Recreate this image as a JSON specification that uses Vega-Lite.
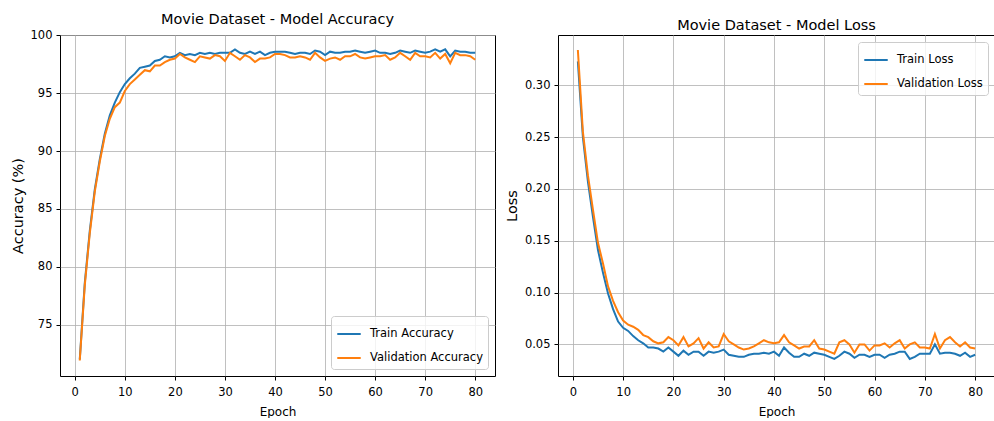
{
"$schema":"https://vega.github.io/schema/vega-lite/v6.json",
"background":"white",
"padding":{"left":9,"top":11,"right":0,"bottom":0},
"autosize":{"type":"pad"},
"bounds":"flush",
"spacing":63,
"datasets":{
"acc":[
{"epoch":1,"Train Accuracy":72.0,"Validation Accuracy":71.9},
{"epoch":2,"Train Accuracy":78.6,"Validation Accuracy":78.4},
{"epoch":3,"Train Accuracy":83.1,"Validation Accuracy":82.9},
{"epoch":4,"Train Accuracy":86.7,"Validation Accuracy":86.5},
{"epoch":5,"Train Accuracy":89.3,"Validation Accuracy":89.1},
{"epoch":6,"Train Accuracy":91.5,"Validation Accuracy":91.3},
{"epoch":7,"Train Accuracy":93.1,"Validation Accuracy":92.8},
{"epoch":8,"Train Accuracy":94.2,"Validation Accuracy":93.8},
{"epoch":9,"Train Accuracy":95.1,"Validation Accuracy":94.2},
{"epoch":10,"Train Accuracy":95.8,"Validation Accuracy":95.2},
{"epoch":11,"Train Accuracy":96.3,"Validation Accuracy":95.8},
{"epoch":12,"Train Accuracy":96.7,"Validation Accuracy":96.2},
{"epoch":13,"Train Accuracy":97.2,"Validation Accuracy":96.6},
{"epoch":14,"Train Accuracy":97.3,"Validation Accuracy":97.0},
{"epoch":15,"Train Accuracy":97.4,"Validation Accuracy":96.9},
{"epoch":16,"Train Accuracy":97.8,"Validation Accuracy":97.4},
{"epoch":17,"Train Accuracy":97.9,"Validation Accuracy":97.4},
{"epoch":18,"Train Accuracy":98.2,"Validation Accuracy":97.7},
{"epoch":19,"Train Accuracy":98.1,"Validation Accuracy":97.9},
{"epoch":20,"Train Accuracy":98.2,"Validation Accuracy":98.0},
{"epoch":21,"Train Accuracy":98.5,"Validation Accuracy":98.4},
{"epoch":22,"Train Accuracy":98.3,"Validation Accuracy":98.1},
{"epoch":23,"Train Accuracy":98.4,"Validation Accuracy":97.9},
{"epoch":24,"Train Accuracy":98.3,"Validation Accuracy":97.7},
{"epoch":25,"Train Accuracy":98.5,"Validation Accuracy":98.2},
{"epoch":26,"Train Accuracy":98.4,"Validation Accuracy":98.1},
{"epoch":27,"Train Accuracy":98.5,"Validation Accuracy":98.0},
{"epoch":28,"Train Accuracy":98.4,"Validation Accuracy":98.3},
{"epoch":29,"Train Accuracy":98.5,"Validation Accuracy":98.2},
{"epoch":30,"Train Accuracy":98.5,"Validation Accuracy":97.8},
{"epoch":31,"Train Accuracy":98.5,"Validation Accuracy":98.5},
{"epoch":32,"Train Accuracy":98.8,"Validation Accuracy":98.2},
{"epoch":33,"Train Accuracy":98.5,"Validation Accuracy":97.9},
{"epoch":34,"Train Accuracy":98.4,"Validation Accuracy":98.3},
{"epoch":35,"Train Accuracy":98.6,"Validation Accuracy":98.1},
{"epoch":36,"Train Accuracy":98.4,"Validation Accuracy":97.7},
{"epoch":37,"Train Accuracy":98.6,"Validation Accuracy":98.0},
{"epoch":38,"Train Accuracy":98.3,"Validation Accuracy":98.0},
{"epoch":39,"Train Accuracy":98.5,"Validation Accuracy":98.1},
{"epoch":40,"Train Accuracy":98.6,"Validation Accuracy":98.4},
{"epoch":41,"Train Accuracy":98.6,"Validation Accuracy":98.4},
{"epoch":42,"Train Accuracy":98.6,"Validation Accuracy":98.3},
{"epoch":43,"Train Accuracy":98.5,"Validation Accuracy":98.1},
{"epoch":44,"Train Accuracy":98.4,"Validation Accuracy":98.1},
{"epoch":45,"Train Accuracy":98.5,"Validation Accuracy":98.2},
{"epoch":46,"Train Accuracy":98.5,"Validation Accuracy":98.1},
{"epoch":47,"Train Accuracy":98.4,"Validation Accuracy":97.9},
{"epoch":48,"Train Accuracy":98.7,"Validation Accuracy":98.5},
{"epoch":49,"Train Accuracy":98.6,"Validation Accuracy":98.1},
{"epoch":50,"Train Accuracy":98.3,"Validation Accuracy":97.8},
{"epoch":51,"Train Accuracy":98.6,"Validation Accuracy":98.0},
{"epoch":52,"Train Accuracy":98.5,"Validation Accuracy":98.1},
{"epoch":53,"Train Accuracy":98.5,"Validation Accuracy":97.9},
{"epoch":54,"Train Accuracy":98.6,"Validation Accuracy":98.2},
{"epoch":55,"Train Accuracy":98.6,"Validation Accuracy":98.2},
{"epoch":56,"Train Accuracy":98.7,"Validation Accuracy":98.4},
{"epoch":57,"Train Accuracy":98.6,"Validation Accuracy":98.1},
{"epoch":58,"Train Accuracy":98.5,"Validation Accuracy":98.0},
{"epoch":59,"Train Accuracy":98.6,"Validation Accuracy":98.1},
{"epoch":60,"Train Accuracy":98.7,"Validation Accuracy":98.2},
{"epoch":61,"Train Accuracy":98.5,"Validation Accuracy":98.2},
{"epoch":62,"Train Accuracy":98.5,"Validation Accuracy":98.3},
{"epoch":63,"Train Accuracy":98.4,"Validation Accuracy":97.9},
{"epoch":64,"Train Accuracy":98.5,"Validation Accuracy":98.1},
{"epoch":65,"Train Accuracy":98.7,"Validation Accuracy":98.5},
{"epoch":66,"Train Accuracy":98.6,"Validation Accuracy":98.2},
{"epoch":67,"Train Accuracy":98.5,"Validation Accuracy":97.9},
{"epoch":68,"Train Accuracy":98.7,"Validation Accuracy":98.5},
{"epoch":69,"Train Accuracy":98.6,"Validation Accuracy":98.2},
{"epoch":70,"Train Accuracy":98.5,"Validation Accuracy":98.2},
{"epoch":71,"Train Accuracy":98.6,"Validation Accuracy":98.1},
{"epoch":72,"Train Accuracy":98.8,"Validation Accuracy":98.5},
{"epoch":73,"Train Accuracy":98.6,"Validation Accuracy":98.0},
{"epoch":74,"Train Accuracy":98.8,"Validation Accuracy":98.4},
{"epoch":75,"Train Accuracy":98.2,"Validation Accuracy":97.6},
{"epoch":76,"Train Accuracy":98.7,"Validation Accuracy":98.5},
{"epoch":77,"Train Accuracy":98.6,"Validation Accuracy":98.3},
{"epoch":78,"Train Accuracy":98.6,"Validation Accuracy":98.3},
{"epoch":79,"Train Accuracy":98.5,"Validation Accuracy":98.2},
{"epoch":80,"Train Accuracy":98.5,"Validation Accuracy":97.9}
],
"loss":[
{"epoch":1,"Train Loss":0.323,"Validation Loss":0.334},
{"epoch":2,"Train Loss":0.250,"Validation Loss":0.255},
{"epoch":3,"Train Loss":0.207,"Validation Loss":0.213},
{"epoch":4,"Train Loss":0.173,"Validation Loss":0.180},
{"epoch":5,"Train Loss":0.141,"Validation Loss":0.148},
{"epoch":6,"Train Loss":0.119,"Validation Loss":0.128},
{"epoch":7,"Train Loss":0.099,"Validation Loss":0.106},
{"epoch":8,"Train Loss":0.084,"Validation Loss":0.092},
{"epoch":9,"Train Loss":0.072,"Validation Loss":0.081},
{"epoch":10,"Train Loss":0.066,"Validation Loss":0.073},
{"epoch":11,"Train Loss":0.063,"Validation Loss":0.069},
{"epoch":12,"Train Loss":0.058,"Validation Loss":0.067},
{"epoch":13,"Train Loss":0.054,"Validation Loss":0.064},
{"epoch":14,"Train Loss":0.051,"Validation Loss":0.059},
{"epoch":15,"Train Loss":0.047,"Validation Loss":0.057},
{"epoch":16,"Train Loss":0.047,"Validation Loss":0.053},
{"epoch":17,"Train Loss":0.046,"Validation Loss":0.051},
{"epoch":18,"Train Loss":0.043,"Validation Loss":0.052},
{"epoch":19,"Train Loss":0.047,"Validation Loss":0.057},
{"epoch":20,"Train Loss":0.043,"Validation Loss":0.054},
{"epoch":21,"Train Loss":0.039,"Validation Loss":0.049},
{"epoch":22,"Train Loss":0.044,"Validation Loss":0.057},
{"epoch":23,"Train Loss":0.040,"Validation Loss":0.048},
{"epoch":24,"Train Loss":0.043,"Validation Loss":0.051},
{"epoch":25,"Train Loss":0.043,"Validation Loss":0.056},
{"epoch":26,"Train Loss":0.039,"Validation Loss":0.046},
{"epoch":27,"Train Loss":0.043,"Validation Loss":0.052},
{"epoch":28,"Train Loss":0.042,"Validation Loss":0.047},
{"epoch":29,"Train Loss":0.043,"Validation Loss":0.048},
{"epoch":30,"Train Loss":0.045,"Validation Loss":0.060},
{"epoch":31,"Train Loss":0.040,"Validation Loss":0.053},
{"epoch":32,"Train Loss":0.039,"Validation Loss":0.050},
{"epoch":33,"Train Loss":0.038,"Validation Loss":0.047},
{"epoch":34,"Train Loss":0.038,"Validation Loss":0.045},
{"epoch":35,"Train Loss":0.040,"Validation Loss":0.046},
{"epoch":36,"Train Loss":0.041,"Validation Loss":0.048},
{"epoch":37,"Train Loss":0.041,"Validation Loss":0.051},
{"epoch":38,"Train Loss":0.042,"Validation Loss":0.054},
{"epoch":39,"Train Loss":0.041,"Validation Loss":0.052},
{"epoch":40,"Train Loss":0.043,"Validation Loss":0.051},
{"epoch":41,"Train Loss":0.039,"Validation Loss":0.052},
{"epoch":42,"Train Loss":0.047,"Validation Loss":0.059},
{"epoch":43,"Train Loss":0.042,"Validation Loss":0.052},
{"epoch":44,"Train Loss":0.038,"Validation Loss":0.049},
{"epoch":45,"Train Loss":0.038,"Validation Loss":0.046},
{"epoch":46,"Train Loss":0.041,"Validation Loss":0.048},
{"epoch":47,"Train Loss":0.039,"Validation Loss":0.048},
{"epoch":48,"Train Loss":0.042,"Validation Loss":0.054},
{"epoch":49,"Train Loss":0.041,"Validation Loss":0.046},
{"epoch":50,"Train Loss":0.040,"Validation Loss":0.045},
{"epoch":51,"Train Loss":0.038,"Validation Loss":0.043},
{"epoch":52,"Train Loss":0.036,"Validation Loss":0.041},
{"epoch":53,"Train Loss":0.039,"Validation Loss":0.052},
{"epoch":54,"Train Loss":0.043,"Validation Loss":0.054},
{"epoch":55,"Train Loss":0.041,"Validation Loss":0.050},
{"epoch":56,"Train Loss":0.037,"Validation Loss":0.042},
{"epoch":57,"Train Loss":0.040,"Validation Loss":0.050},
{"epoch":58,"Train Loss":0.040,"Validation Loss":0.050},
{"epoch":59,"Train Loss":0.038,"Validation Loss":0.044},
{"epoch":60,"Train Loss":0.040,"Validation Loss":0.049},
{"epoch":61,"Train Loss":0.040,"Validation Loss":0.049},
{"epoch":62,"Train Loss":0.037,"Validation Loss":0.051},
{"epoch":63,"Train Loss":0.040,"Validation Loss":0.047},
{"epoch":64,"Train Loss":0.041,"Validation Loss":0.051},
{"epoch":65,"Train Loss":0.043,"Validation Loss":0.054},
{"epoch":66,"Train Loss":0.043,"Validation Loss":0.046},
{"epoch":67,"Train Loss":0.036,"Validation Loss":0.050},
{"epoch":68,"Train Loss":0.038,"Validation Loss":0.052},
{"epoch":69,"Train Loss":0.041,"Validation Loss":0.047},
{"epoch":70,"Train Loss":0.041,"Validation Loss":0.047},
{"epoch":71,"Train Loss":0.041,"Validation Loss":0.046},
{"epoch":72,"Train Loss":0.050,"Validation Loss":0.060},
{"epoch":73,"Train Loss":0.041,"Validation Loss":0.046},
{"epoch":74,"Train Loss":0.042,"Validation Loss":0.054},
{"epoch":75,"Train Loss":0.042,"Validation Loss":0.057},
{"epoch":76,"Train Loss":0.041,"Validation Loss":0.052},
{"epoch":77,"Train Loss":0.039,"Validation Loss":0.048},
{"epoch":78,"Train Loss":0.042,"Validation Loss":0.052},
{"epoch":79,"Train Loss":0.038,"Validation Loss":0.047},
{"epoch":80,"Train Loss":0.040,"Validation Loss":0.046}
]
},
"hconcat":[
{
"width":435,"height":341,
"title":{"text":"Movie Dataset - Model Accuracy"},
"data":{"name":"acc"},
"transform":[{"fold":["Train Accuracy","Validation Accuracy"],"as":["series","value"]}],
"mark":{"type":"line","strokeWidth":2},
"encoding":{
"x":{"field":"epoch","type":"quantitative","scale":{"domain":[-2.95,83.95],"nice":false,"zero":false},"axis":{"values":[0,10,20,30,40,50,60,70,80],"title":"Epoch","labelPadding":6,"titlePadding":9}},
"y":{"field":"value","type":"quantitative","scale":{"domain":[70.56,100.04],"nice":false,"zero":false},"axis":{"values":[75,80,85,90,95,100],"format":"d","title":"Accuracy (%)","titlePadding":5,"titleFontSize":14.5}},
"color":{"field":"series","type":"nominal","scale":{"domain":["Train Accuracy","Validation Accuracy"],"range":["#1f77b4","#ff7f0e"]},"legend":{"orient":"bottom-right","title":null}}
}
},
{
"width":437,"height":341,
"title":{"text":"Movie Dataset - Model Loss"},
"data":{"name":"loss"},
"transform":[{"fold":["Train Loss","Validation Loss"],"as":["series","value"]}],
"mark":{"type":"line","strokeWidth":2},
"encoding":{
"x":{"field":"epoch","type":"quantitative","scale":{"domain":[-2.95,83.95],"nice":false,"zero":false},"axis":{"values":[0,10,20,30,40,50,60,70,80],"title":"Epoch","labelPadding":6,"titlePadding":9}},
"y":{"field":"value","type":"quantitative","scale":{"domain":[0.0195,0.3485],"nice":false,"zero":false},"axis":{"values":[0.05,0.10,0.15,0.20,0.25,0.30],"format":".2f","title":"Loss","titlePadding":5,"titleFontSize":14.5}},
"color":{"field":"series","type":"nominal","scale":{"domain":["Train Loss","Validation Loss"],"range":["#1f77b4","#ff7f0e"]},"legend":{"orient":"top-right","title":null}}
}
}
],
"resolve":{"scale":{"color":"independent"},"legend":{"color":"independent"}},
"config":{
"font":"DejaVu Sans",
"view":{"stroke":"#000000","strokeWidth":1},
"axis":{"domain":false,"grid":true,"gridColor":"#b0b0b0","gridWidth":0.8,"gridOpacity":1,"tickColor":"#000000","tickSize":4,"labelFontSize":11.5,"labelColor":"#000000","labelPadding":4,"titleFontSize":12,"titleFontWeight":"normal","titleColor":"#000000"},
"title":{"fontSize":14.5,"fontWeight":"normal","color":"#000000","offset":2},
"legend":{"symbolType":"stroke","symbolStrokeWidth":2,"symbolSize":550,"labelFontSize":11.5,"labelColor":"#000000","fillColor":"rgba(255,255,255,0.8)","strokeColor":"#cccccc","cornerRadius":3,"padding":5,"rowPadding":5,"labelOffset":8,"offset":7}
}
}
